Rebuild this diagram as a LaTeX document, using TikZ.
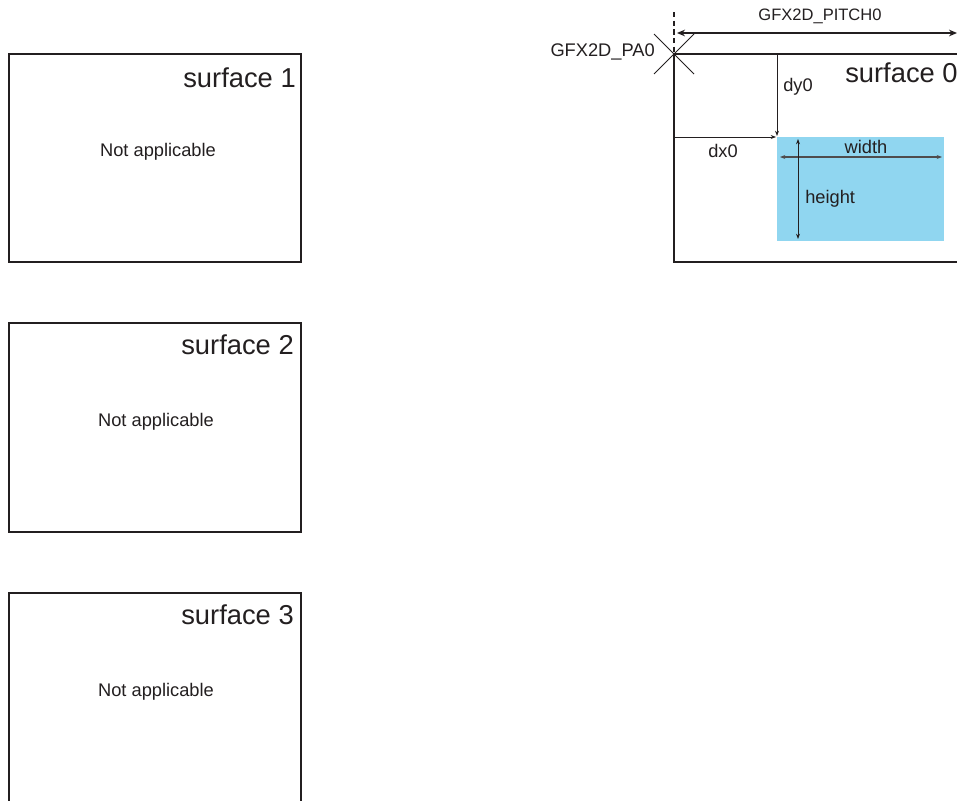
\documentclass[tikz,border=0pt]{standalone}
\usepackage{fontspec}
\setmainfont{Liberation Sans}
\usetikzlibrary{arrows.meta,calc}
\definecolor{ink}{RGB}{35,31,32}
\definecolor{skyfill}{RGB}{144,214,240}
\begin{document}
\begin{tikzpicture}[x=0.75pt,y=-0.75pt,
  frame/.style={draw=ink,line width=1.5pt},
  thinarrow/.style={draw=ink,line width=0.6pt,-{Stealth[length=4pt,width=3pt]}},
  dblarrow/.style={draw=ink,line width=0.6pt,{Stealth[length=4pt,width=3pt]}-{Stealth[length=4pt,width=3pt]}},
  big/.style={font=\fontsize{20.5pt}{24pt}\selectfont,text=ink,inner sep=0pt},
  mid/.style={font=\fontsize{13.7pt}{16pt}\selectfont,text=ink,inner sep=0pt},
  small/.style={font=\fontsize{12.4pt}{15pt}\selectfont,text=ink,inner sep=0pt}]
\useasboundingbox (0,0) rectangle (957,800);
\fill[white] (0,0) rectangle (957,800);

% surface 1
\coordinate (s1a) at (9,54); \coordinate (s1b) at (301,262);
\draw[frame] (s1a) rectangle (s1b);
\node[big,anchor=east] (t1) at (296,78) {surface 1};
\node[mid] (n1) at (158,152) {Not applicable};

% surface 2
\coordinate (s2a) at (9,323); \coordinate (s2b) at (301,532);
\draw[frame] (s2a) rectangle (s2b);
\node[big,anchor=east] (t2) at (294,345) {surface 2};
\node[mid] (n2) at (156,422) {Not applicable};

% surface 3
\draw[frame] (9,805) -- (9,593) -- (301,593) -- (301,805);
\node[big,anchor=east] (t3) at (294,615) {surface 3};
\node[mid] (n3) at (156,692) {Not applicable};

% surface 0
\coordinate (pa) at (674,54);
\draw[frame] (965,54) -- (pa) -- (674,262) -- (965,262);
\node[big,anchor=west] (t0) at (845,73) {surface 0};

% blue area
\fill[skyfill] (777,137) rectangle (944,241);
\coordinate (wl) at (780,157); \coordinate (wr) at (942,157);
\draw[dblarrow,line width=1pt,draw=ink!80] (wl) -- (wr);
\node[mid] (wt) at (866,147) {width};
\coordinate (ht) at (798,139); \coordinate (hb) at (798,239);
\draw[dblarrow] (ht) -- (hb);
\node[mid,anchor=west] (htx) at (805,199) {height};

% dy0, dx0
\coordinate (dyt) at (777,54); \coordinate (dyb) at (777,136);
\draw[thinarrow] (dyt) -- (dyb);
\node[mid,anchor=west] (dy) at (783,87) {dy0};
\coordinate (dxl) at (674,137); \coordinate (dxr) at (776,137);
\draw[thinarrow] (dxl) -- (dxr);
\node[mid] (dx) at (723,151) {dx0};

% pitch
\coordinate (pl) at (677,33); \coordinate (pr) at (957,33);
\draw[draw=ink,line width=1.4pt,{Stealth[length=6pt,width=5pt]}-{Stealth[length=6pt,width=5pt]}] (pl) -- (pr);
\node[small] (pt) at (820,16) {GFX2D\_PITCH0};
\draw[draw=ink,line width=1.2pt,dash pattern=on 4pt off 2.5pt] (674,12) -- (pa);

% cross at PA0
\draw[ink,line width=0.6pt] ($(pa)+(-20,-20)$) -- ($(pa)+(20,20)$);
\draw[ink,line width=0.6pt] ($(pa)+(-20,20)$) -- ($(pa)+(20,-20)$);
\node[mid,anchor=east] (pat) at (655,52) {GFX2D\_PA0};
\end{tikzpicture}
\end{document}
